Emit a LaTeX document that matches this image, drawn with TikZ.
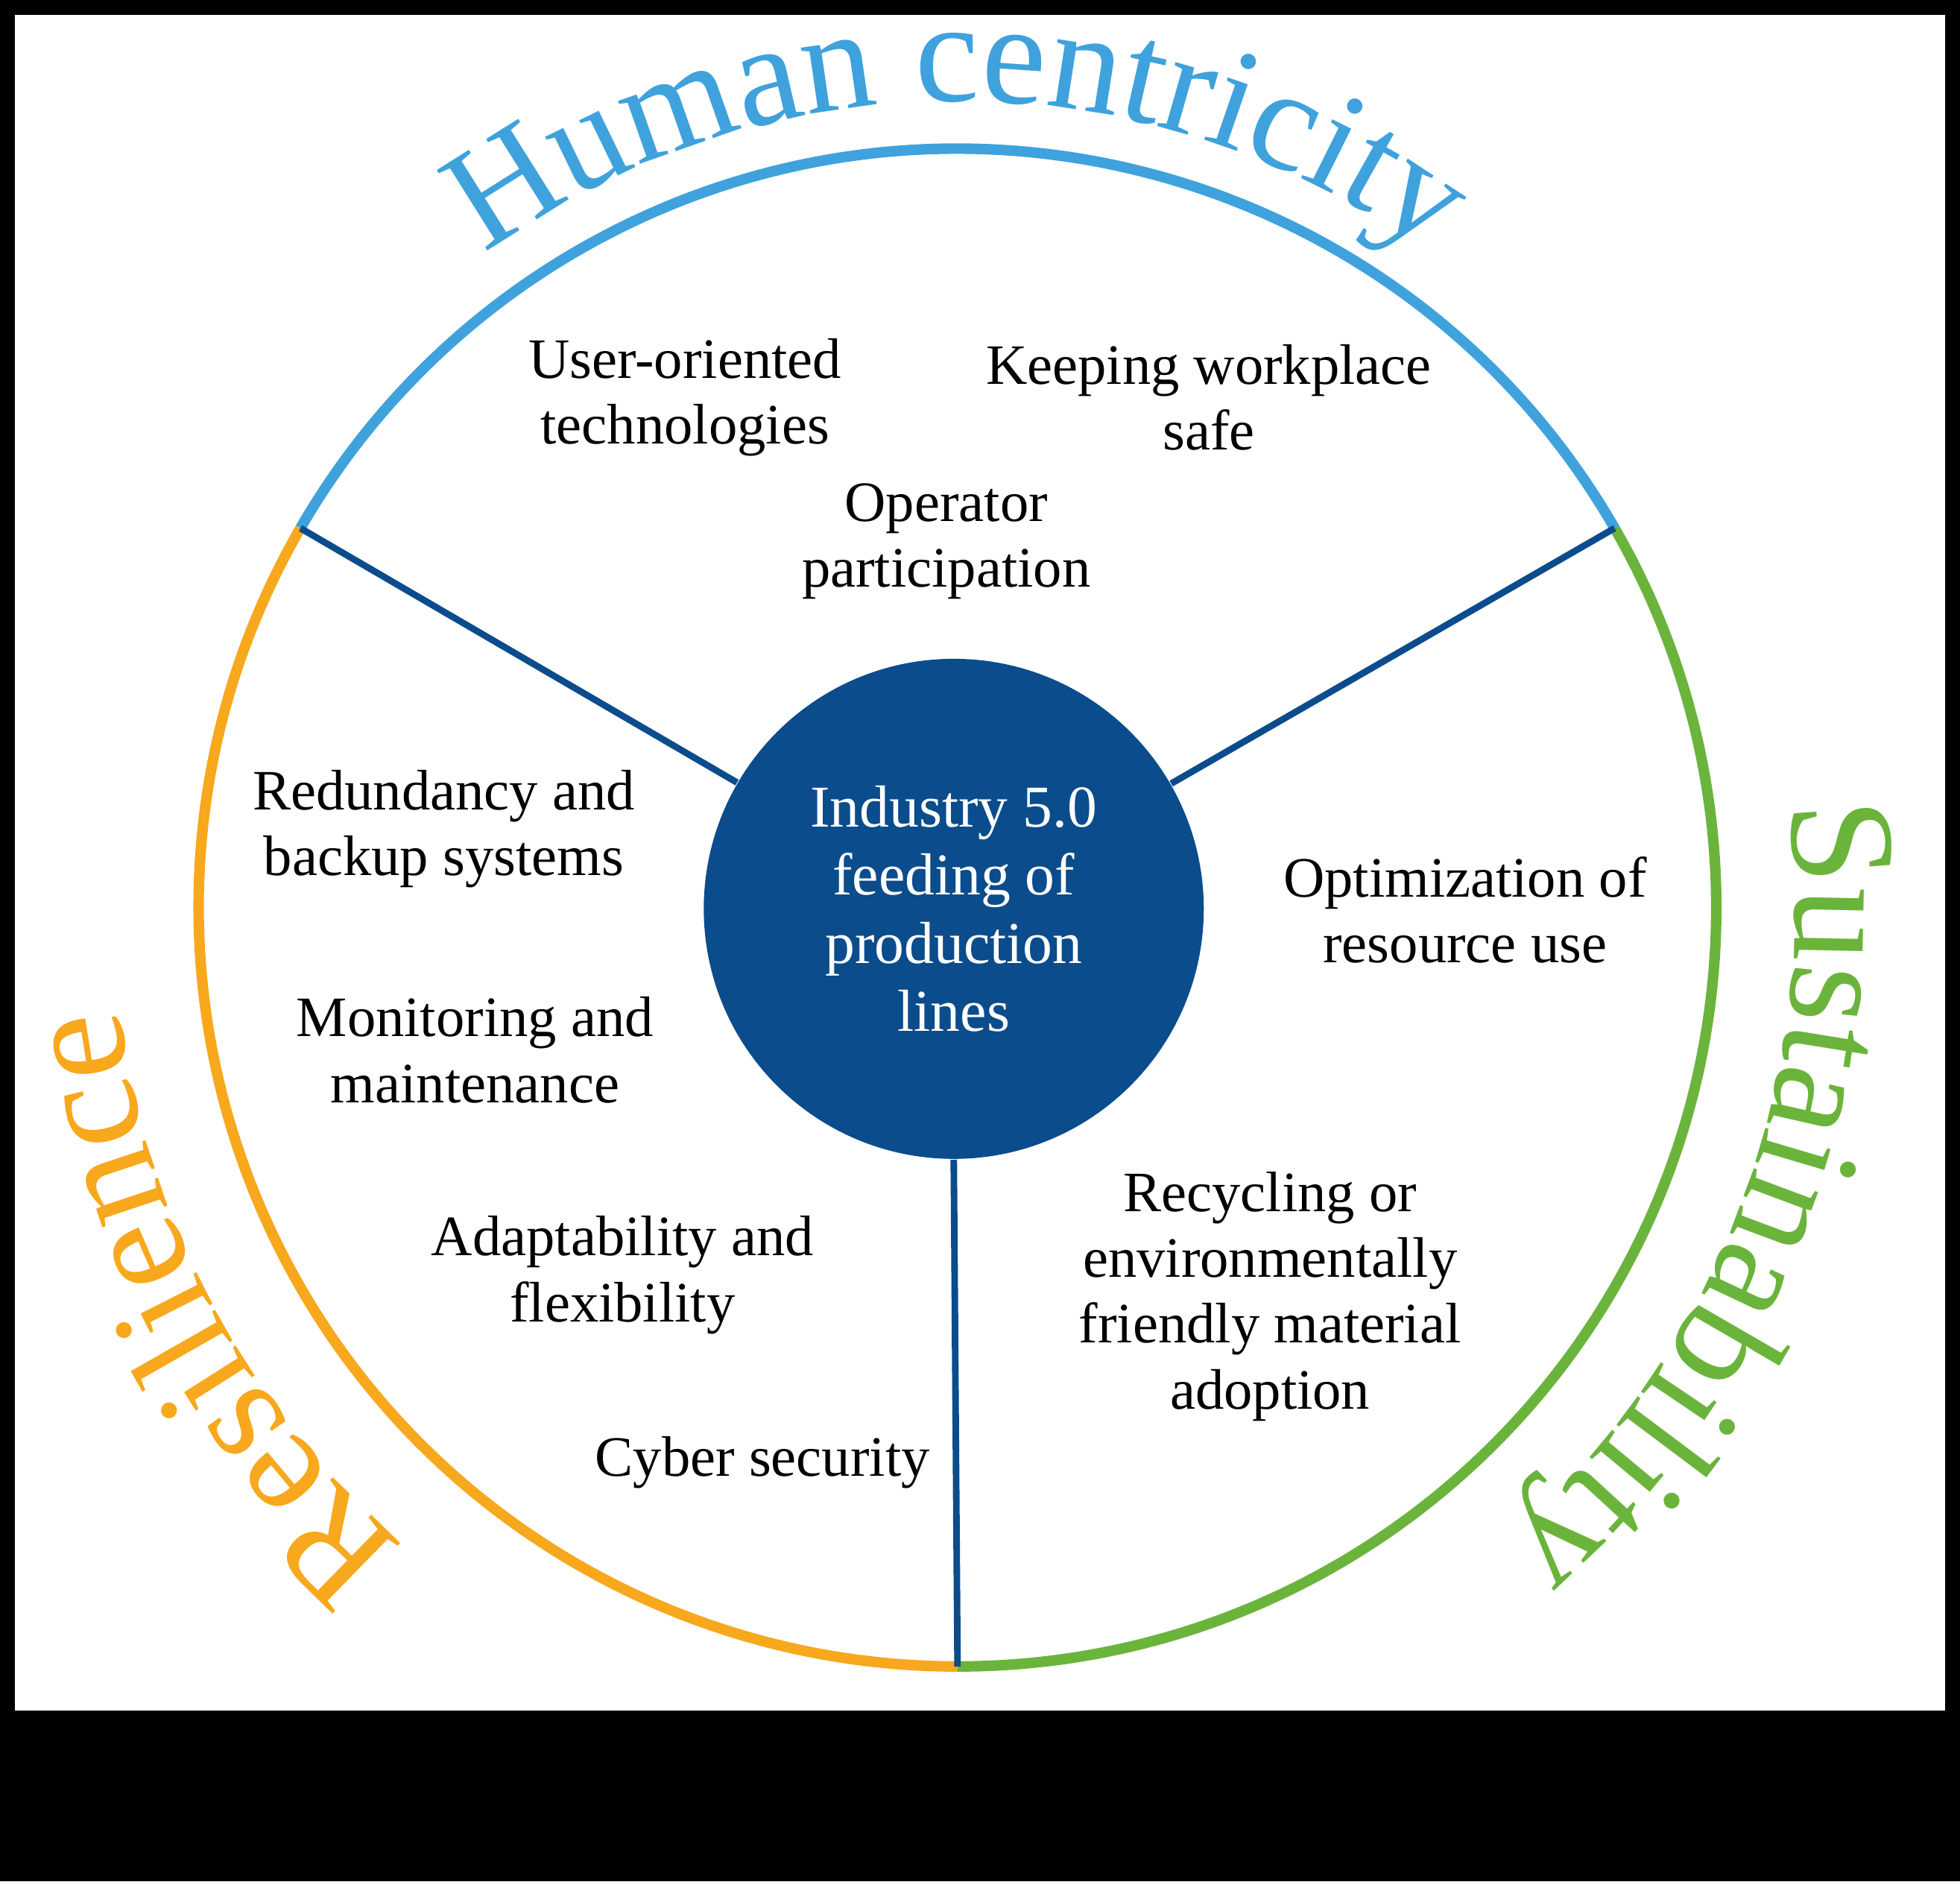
\documentclass[tikz,border=0pt]{standalone}
\usepackage{fontspec}
\setmainfont{Liberation Serif}
\usetikzlibrary{positioning,decorations.text}

\definecolor{hcblue}{HTML}{3FA2DC}
\definecolor{sugreen}{HTML}{6BB43C}
\definecolor{reorange}{HTML}{F8A81C}
\definecolor{hubblue}{HTML}{0B4C8C}

\tikzset{
    item/.style={align=center, font=\fontsize{13}{15}\selectfont},
    rim/.style={line width=2.4pt},
    spoke/.style={line width=1.5pt, draw=hubblue}
}

\begin{document}
\begin{tikzpicture}
    \useasboundingbox (0,0) rectangle (15.68,15.05);
    % frame
    \fill[black] (0,0) rectangle (15.68,15.05);
    \fill[white] (0.12,1.37) rectangle (15.56,14.93);
    \coordinate (c) at (7.66,7.79);

    % outer ring
    \draw[rim, hcblue] ([shift={(30:6.07)}]c) arc (30:150:6.07);
    \draw[rim, reorange] ([shift={(150:6.07)}]c) arc (150:270:6.07);
    \draw[rim, sugreen] ([shift={(-90:6.07)}]c) arc (-90:30:6.07);

    % hub
    \node[circle, fill=hubblue, minimum size=4.0cm, inner sep=0pt, text=white,
        align=center, font=\fontsize{13.5}{15.5}\selectfont] (hub) at (7.63,7.78)
        {Industry 5.0\\feeding of\\production\\lines};
    \coordinate (tl) at ([shift={(150:6.07)}]c);
    \coordinate (tr) at ([shift={(30:6.07)}]c);
    \coordinate (bt) at ([shift={(-90:6.07)}]c);
    \draw[spoke] (hub) -- (tl);
    \draw[spoke] (hub) -- (tr);
    \draw[spoke] (hub.south) -- (bt);

    % pillar titles
    \path[decorate, decoration={text along path, text align=center,
        text={|\fontsize{33}{33}\selectfont\color{hcblue}|Human centricity}}]
        ([shift={(160:6.45)}]c) arc (160:20:6.45);
    \path[decorate, decoration={text along path, text align=center,
        text={|\fontsize{34}{34}\selectfont\color{sugreen}|Sustainability}}]
        ([shift={(24:6.7)}]c) arc (24:-66:6.7);
    \path[decorate, decoration={text along path, text align=center,
        text={|\fontsize{34}{34}\selectfont\color{reorange}|Resilience}}]
        ([shift={(253:6.75)}]c) arc (253:163:6.75);

    % human centricity items
    \node[item] (user) at (5.48,11.87) {User-oriented\\technologies};
    \node[item] (safe) at (9.67,11.87) {Keeping workplace\\safe};
    \node[item] (oper) at (7.57,10.72) {Operator\\participation};

    % resilience items
    \node[item] (redund) at (3.55,8.42) {Redundancy and\\backup systems};
    \node[item] (monit) at (3.80,6.65) {Monitoring and\\maintenance};
    \node[item] (adapt) at (4.98,4.85) {Adaptability and\\flexibility};
    \node[item] (cyber) at (6.10,3.35) {Cyber security};

    % sustainability items
    \node[item] (optim) at (11.72,7.77) {Optimization of\\resource use};
    \node[item] (recyc) at (10.16,4.68) {Recycling or\\environmentally\\friendly material\\adoption};
\end{tikzpicture}
\end{document}
